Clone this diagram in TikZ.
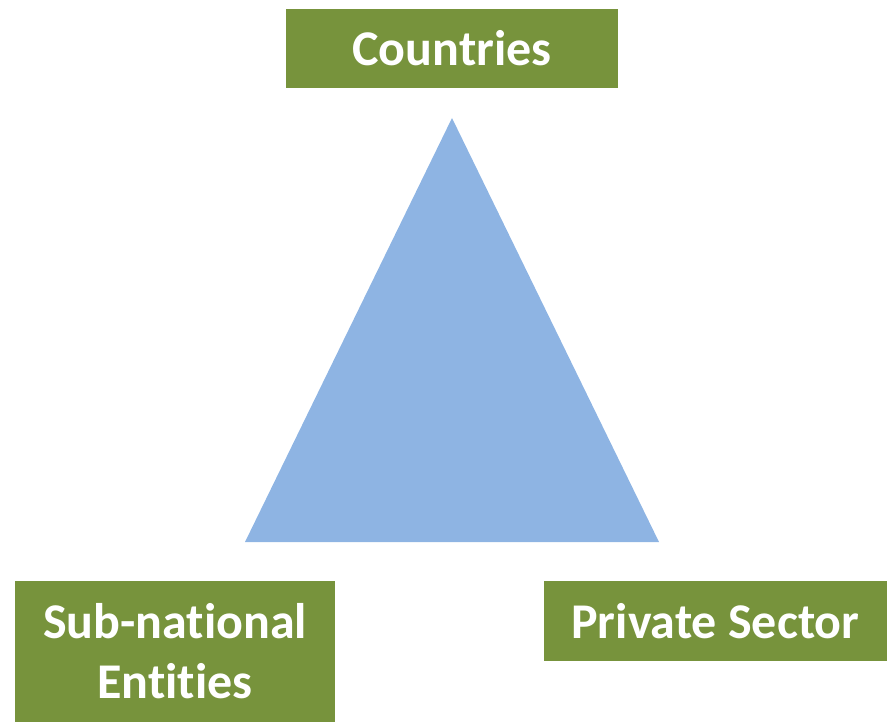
\documentclass[tikz,border=0pt]{standalone}
\usepackage{fontspec}
\setmainfont[Ligatures=NoCommon]{Carlito}
\definecolor{boxgreen}{HTML}{77933C}
\definecolor{triblue}{HTML}{8EB4E3}
\tikzset{
  actor/.style={fill=boxgreen, text=white, inner sep=0pt, align=center,
    font=\fontsize{50}{60}\selectfont\bfseries}
}
\begin{document}
\begin{tikzpicture}[x=1pt, y=-1pt]
  \useasboundingbox (0,0) rectangle (887,722);

  % the three corners of the triangle
  \coordinate (top) at (452,118);
  \coordinate (left) at (245,542);
  \coordinate (right) at (659,542);
  \fill[triblue] (top) -- (left) -- (right) -- cycle;

  \node[actor, minimum width=332pt, minimum height=79pt] (countries) at (452,48.5) {Countries};
  \node[actor, minimum width=320pt, minimum height=141pt] (subnational) at (175,651.5) {Sub-national\\Entities};
  \node[actor, minimum width=343pt, minimum height=80pt] (private) at (715.5,621) {Private Sector};
\end{tikzpicture}
\end{document}
